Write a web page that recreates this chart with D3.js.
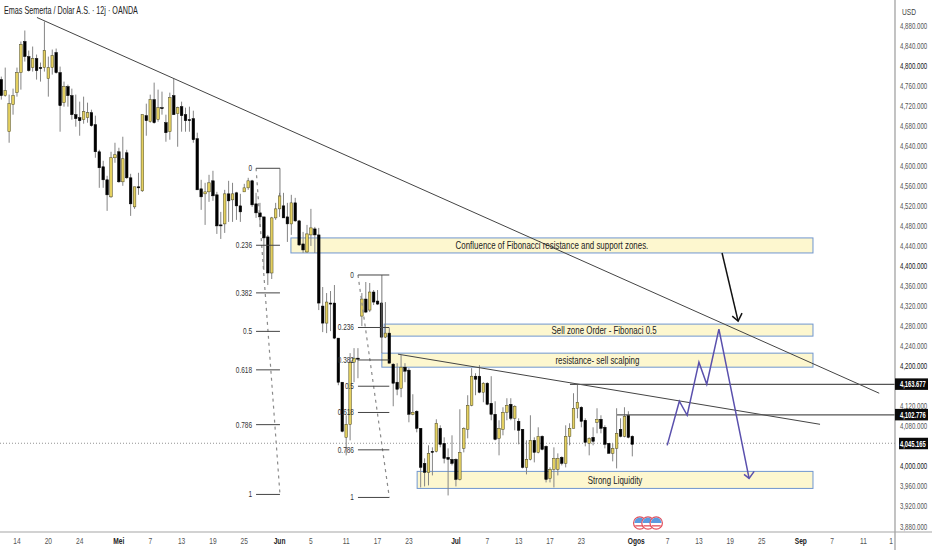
<!DOCTYPE html>
<html><head><meta charset="utf-8">
<script src="https://cdn.jsdelivr.net/npm/d3@7"></script>
<style>
html,body{margin:0;padding:0;background:#fff;overflow:hidden}
text{font-family:"Liberation Sans",Arial,sans-serif}
</style></head><body><svg id="c" width="932" height="550"></svg>
<script>
const opens=[4771,4739,4667,4721,4745,4785,4847,4817,4795,4813,4795,4795,4773,4795,4825,4785,4725,4757,4739,4701,4695,4691,4695,4705,4681,4627,4597,4571,4537,4615,4627,4567,4625,4575,4517,4557,4549,4699,4687,4731,4691,4715,4685,4667,4739,4703,4717,4701,4691,4693,4653,4553,4543,4547,4569,4541,4481,4483,4543,4531,4545,4519,4547,4555,4569,4523,4505,4497,4457,4385,4495,4513,4519,4497,4483,4525,4489,4443,4427,4461,4473,4461,4319,4285,4325,4325,4255,4167,4057,4083,4207,4215,4299,4333,4311,4347,4329,4325,4257,4265,4203,4167,4155,4197,4191,4103,4109,4075,4005,3987,4029,4029,4075,4045,4017,4013,4013,3973,4035,4073,4121,4179,4179,4147,4165,4125,4103,4055,4073,4107,4123,4095,4089,4073,3997,4013,4051,4027,4059,4039,3975,3993,3993,4017,4005,4059,4075,4115,4117,4091,4045,4057,4087,4093,4077,4045,4025,4035,4073,4059,4101,4059];
const highs=[4777,4795,4741,4753,4795,4847,4869,4829,4837,4821,4805,4887,4817,4831,4833,4797,4767,4761,4753,4741,4727,4737,4725,4711,4699,4631,4609,4579,4627,4645,4635,4657,4631,4583,4557,4585,4701,4723,4741,4765,4751,4747,4701,4745,4773,4717,4727,4715,4717,4709,4665,4571,4565,4581,4589,4547,4507,4551,4569,4565,4547,4543,4563,4575,4571,4545,4525,4497,4461,4497,4525,4545,4545,4525,4541,4535,4491,4467,4481,4513,4477,4475,4357,4345,4349,4361,4255,4167,4101,4225,4235,4235,4345,4367,4365,4351,4351,4327,4327,4275,4205,4205,4221,4205,4195,4143,4111,4075,4015,4041,4037,4093,4081,4057,4035,4061,4015,4113,4077,4141,4195,4185,4201,4167,4167,4179,4129,4091,4117,4135,4135,4121,4095,4073,4051,4101,4057,4077,4061,4041,3997,4037,4025,4019,4081,4085,4145,4163,4119,4095,4057,4077,4115,4101,4081,4045,4045,4115,4095,4117,4109,4061];
const lows=[4731,4737,4645,4701,4737,4751,4807,4787,4787,4771,4767,4787,4737,4781,4783,4667,4717,4717,4691,4677,4659,4683,4685,4677,4615,4555,4555,4509,4535,4605,4565,4559,4573,4499,4513,4541,4547,4659,4685,4683,4687,4701,4647,4651,4701,4637,4667,4667,4667,4645,4551,4511,4481,4527,4529,4463,4453,4465,4487,4487,4491,4487,4547,4551,4517,4495,4477,4391,4361,4373,4491,4497,4495,4447,4461,4487,4439,4425,4425,4439,4425,4311,4267,4265,4269,4253,4161,4067,4021,4051,4167,4175,4279,4305,4307,4321,4321,4255,4255,4205,4119,4141,4137,4167,4087,4101,4067,3957,3959,3961,3981,4027,4037,4005,3941,4001,3959,3971,4027,4055,4119,4141,4145,4127,4121,4091,4051,4021,4061,4091,4091,4071,4043,3995,3983,4011,4007,4025,4031,3967,3967,3957,3981,4001,3997,4041,4075,4095,4077,4039,4021,4041,4065,4065,4035,4025,4009,3995,4057,4057,4055,4019];
const closes=[4739,4749,4723,4739,4785,4841,4817,4789,4813,4789,4793,4829,4795,4819,4785,4719,4757,4739,4701,4693,4689,4707,4705,4679,4627,4595,4571,4541,4615,4621,4567,4613,4575,4523,4557,4555,4701,4689,4731,4685,4715,4713,4665,4735,4701,4715,4699,4689,4689,4651,4551,4537,4547,4565,4539,4479,4479,4543,4529,4543,4519,4507,4555,4569,4521,4505,4497,4455,4385,4495,4513,4539,4495,4483,4525,4489,4441,4431,4463,4475,4461,4325,4285,4327,4323,4255,4167,4069,4083,4207,4215,4213,4333,4307,4347,4327,4323,4257,4265,4205,4165,4153,4197,4189,4103,4107,4075,3997,3987,4025,4027,4085,4043,4015,4013,4005,3973,4027,4075,4121,4179,4173,4147,4165,4123,4103,4053,4075,4107,4121,4095,4119,4071,3997,4013,4051,4027,4059,4033,3973,3993,4015,4015,4005,4059,4075,4115,4127,4089,4047,4055,4049,4093,4075,4043,4025,4035,4065,4059,4099,4057,4043];

const priceTicks=d3.range(3880,4881,40).filter(v=>v!==4160&&v!==4040);
const boldPriceTicks=[4800,4400,4200,4000];
const timeLabels=["14","20","24","Mei","7","13","19","25","Jun","5","11","17","23","Jul","7","13","17","23","Ogos","7","13","19","25","Sep","7","11","1"];
const timeSlots=[4,12,20,30,38,46,54,62,71,79,88,96,104,116,124,132,140,148,162,170,178,186,194,204,212,220,227];
const boldTimeLabels=["Mei","Jun","Jul","Ogos","Sep"];

const zones=[
 {a:73.9,b:207.1,hi:4455,lo:4425,label:"Confluence of Fibonacci resistance and support zones.",mid:140.5},
 {a:97.7,b:207.1,hi:4283,lo:4259,label:"Sell zone Order - Fibonaci 0.5",mid:153.8},
 {a:97.1,b:207.1,hi:4225,lo:4197,label:"resistance- sell scalping",mid:152.1},
 {a:106.1,b:207.1,hi:3989,lo:3955,label:"Strong Liquidity",mid:156.6}
];
const fibRatios=[0,0.236,0.382,0.5,0.618,0.786,1];
const fibs=[
 {a:65,b:71.1,top:4594,bottom:3943,stemTo:4537,stemAt:71.1},
 {a:91,b:99,top:4381,bottom:3937,stemTo:4225,stemAt:97.1}
];
const trendLines=[[9.1,4895,224,4145],[101.2,4223,208.9,4083]];
const levels=[{p:4163.677,from:145.1},{p:4102.776,from:157.1}];
const lastPrice=4045.165;
const projection=[[169.9,4041],[173,4129],[175,4101],[178,4207],[180,4163],[183.1,4273],[190.8,3975]];
const projectionHead=[[189.5,3983],[190.8,3975],[192.1,3989]];
const callout=[[183.9,4425],[188,4289]];
const calloutHead=[[186.5,4299],[188,4289],[189,4305]];
const eventSlots=[162.9,165,167.1];

const W=932,H=550,axisX=895,axisY=532;
const x=d3.scaleLinear().domain([0,161]).range([1.3,632.3]);
const y=d3.scaleLinear().domain([4880,3880]).range([25,526]);
const svg=d3.select("#c");
const line=d3.line().x(d=>x(d[0])).y(d=>y(d[1]));
const squeeze=(s,fx,fy,k)=>s.attr("x",0).attr("y",0).attr("transform",(d,i)=>`translate(${fx(d,i)},${fy(d,i)}) scale(${k},1)`);

// zones under candles
const zg=svg.append("g");
zg.selectAll("rect").data(zones).join("rect")
 .attr("x",d=>x(d.a)).attr("width",d=>x(d.b)-x(d.a))
 .attr("y",d=>y(d.hi)).attr("height",d=>y(d.lo)-y(d.hi))
 .attr("fill","#fdf7cf").attr("stroke","#7096cf").attr("stroke-width",1);

// last price dotted
svg.append("line").attr("x1",0).attr("x2",axisX).attr("y1",y(lastPrice)).attr("y2",y(lastPrice))
 .attr("stroke","#777").attr("stroke-width",0.8).attr("stroke-dasharray","1 2");

// candles
const idx=d3.range(closes.length);
const cg=svg.append("g");
cg.selectAll("line").data(idx).join("line")
 .attr("x1",i=>x(i)).attr("x2",i=>x(i)).attr("y1",i=>y(highs[i])).attr("y2",i=>y(lows[i]))
 .attr("stroke","#858585").attr("stroke-width",1);
cg.selectAll("rect").data(idx).join("rect")
 .attr("x",i=>x(i)-1.3).attr("width",2.6)
 .attr("y",i=>y(Math.max(opens[i],closes[i])))
 .attr("height",i=>Math.max(1,Math.abs(y(opens[i])-y(closes[i]))))
 .attr("fill",i=>closes[i]>=opens[i]?"#e4d060":"#000")
 .attr("stroke",i=>closes[i]>=opens[i]?"#4a4722":"#000").attr("stroke-width",0.5);

// fibs
fibs.forEach(f=>{
 const g=svg.append("g");
 const lv=r=>f.top+(f.bottom-f.top)*r;
 g.append("path").attr("d",line([[f.a,f.top],[f.b,f.bottom]])).attr("fill","none")
  .attr("stroke","#8a8a8a").attr("stroke-width",1.2).attr("stroke-dasharray","3 4");
 g.append("path").attr("d",line([[f.stemAt,f.top],[f.stemAt,f.stemTo]])).attr("fill","none").attr("stroke","#777").attr("stroke-width",1);
 g.selectAll("line").data(fibRatios).join("line")
  .attr("x1",x(f.a)).attr("x2",x(f.b)).attr("y1",r=>y(lv(r))).attr("y2",r=>y(lv(r)))
  .attr("stroke","#444").attr("stroke-width",1);
 g.selectAll("text").data(fibRatios).join("text")
  .attr("text-anchor","end").attr("font-size",9).attr("fill","#333").text(r=>r)
  .call(squeeze,()=>x(f.a)-4,r=>y(lv(r))+3,0.72);
});

// trend lines and levels
trendLines.forEach(t=>svg.append("path").attr("d",line([[t[0],t[1]],[t[2],t[3]]])).attr("fill","none").attr("stroke","#444").attr("stroke-width",1));
levels.forEach(l=>svg.append("line").attr("x1",x(l.from)).attr("x2",axisX).attr("y1",y(l.p)+.5).attr("y2",y(l.p)+.5).attr("stroke","#555").attr("stroke-width",1.3));

// zone labels
svg.append("g").selectAll("text").data(zones).join("text")
 .attr("text-anchor","middle").attr("font-size",11).attr("fill","#222").text(d=>d.label)
 .call(squeeze,d=>x(d.mid),d=>(y(d.hi)+y(d.lo))/2+3.8,0.72);

// projection + callout
[projection,projectionHead].forEach(p=>svg.append("path").attr("d",line(p)).attr("fill","none").attr("stroke","#5a50ad").attr("stroke-width",1.5));
[callout,calloutHead].forEach(p=>svg.append("path").attr("d",line(p)).attr("fill","none").attr("stroke","#111").attr("stroke-width",1.5));

// axes
const ax=d3.axisRight(y).tickValues(priceTicks).tickSize(0).tickFormat(d3.format(",.3f"));
const ag=svg.append("g").attr("transform",`translate(${axisX},0)`).call(ax);
ag.select(".domain").remove();
ag.selectAll("text").attr("font-size",8.5).attr("dy",null).attr("dominant-baseline",null)
 .style("font-family",'"Liberation Sans",sans-serif')
 .attr("fill",d=>boldPriceTicks.includes(d)?"#111":"#555")
 .call(squeeze,()=>5,()=>3,0.72);
svg.append("line").attr("x1",axisX).attr("x2",axisX).attr("y1",0).attr("y2",H).attr("stroke","#9a9a9a").attr("stroke-width",1.2);
svg.append("line").attr("x1",0).attr("x2",W).attr("y1",axisY).attr("y2",axisY).attr("stroke","#a5a5a5").attr("stroke-width",1.2);
svg.append("text").datum(0).attr("font-size",8.5).attr("fill","#444").text("USD").call(squeeze,()=>902,()=>14.5,0.78);
svg.selectAll(".tl").data(timeLabels).join("text").attr("class","tl")
 .attr("text-anchor","middle").attr("font-size",8.5)
 .attr("fill",d=>boldTimeLabels.includes(d)?"#222":"#555").attr("font-weight",d=>boldTimeLabels.includes(d)?"bold":null).text(d=>d)
 .call(squeeze,(d,i)=>x(timeSlots[i]),()=>544,0.78);

// price tags
const tags=[{p:4163.677,left:895},{p:4102.776,left:895},{p:lastPrice,left:899}];
const tg=svg.selectAll(".tag").data(tags).join("g").attr("class","tag");
tg.append("rect").attr("x",d=>d.left).attr("width",d=>928-d.left).attr("y",d=>y(d.p)-5.5).attr("height",11.5).attr("fill","#0a0a0a");
tg.append("text").attr("font-size",8.5).attr("font-weight","bold").attr("fill","#fff").text(d=>d3.format(",.3f")(d.p))
 .call(squeeze,()=>900,d=>y(d.p)+3.3,0.68);

// event flags
const ev=svg.selectAll(".ev").data(eventSlots).join("g").attr("class","ev").attr("transform",d=>`translate(${x(d)},523)`);
ev.append("circle").attr("r",6.2).attr("fill","#fff").attr("stroke","#e4505c").attr("stroke-width",1.2);
ev.append("path").attr("d",d3.arc()({innerRadius:0,outerRadius:5.4,startAngle:-Math.PI/2,endAngle:Math.PI/2})).attr("fill","#5b9be0");
ev.append("rect").attr("x",-4.5).attr("y",2.2).attr("width",9).attr("height",1.3).attr("fill","#e4505c");

// title
svg.append("text").datum(0).attr("font-size",10).attr("fill","#222").text("Emas Semerta / Dolar A.S. · 12j · OANDA").call(squeeze,()=>4,()=>14,0.72);
</script></body></html>
